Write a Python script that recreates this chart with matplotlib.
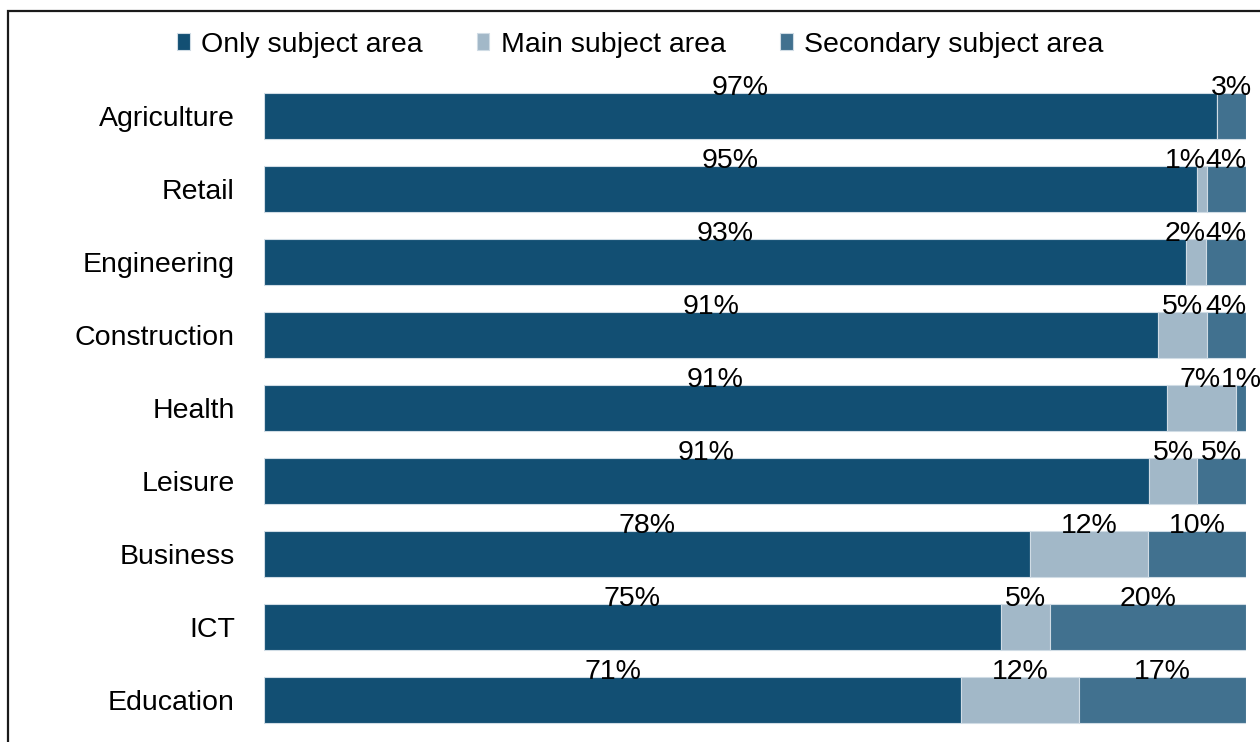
import matplotlib.pyplot as plt
import matplotlib.patches as patches
import numpy as np

plt.rcParams['font.family'] = ['Liberation Sans', 'DejaVu Sans']

categories = ['Agriculture', 'Retail', 'Engineering', 'Construction', 'Health',
              'Leisure', 'Business', 'ICT', 'Education']
only_area = [97, 95, 93, 91, 91, 91, 78, 75, 71]
main_area = [0, 1, 2, 5, 7, 5, 12, 5, 12]
secondary_area = [3, 4, 4, 4, 1, 5, 10, 20, 17]

series = [('Only subject area', only_area, '#124f73'),
          ('Main subject area', main_area, '#a2b8c8'),
          ('Secondary subject area', secondary_area, '#41718f')]

fig = plt.figure(figsize=(12.6, 7.42), dpi=100)
ax = fig.add_axes([264 / 1260, 1 - 736.5 / 742, 982 / 1260, 657 / 742])

y = np.arange(len(categories))
totals = np.array(only_area) + np.array(main_area) + np.array(secondary_area)
bar_h = 0.63
left = np.zeros(len(categories))
row_labels = [[] for _ in categories]

for name, vals, color in series:
    vals = np.array(vals, dtype=float)
    share = vals / totals
    ax.barh(y, share, left=left, height=bar_h, color=color,
            edgecolor='#d0dce5', linewidth=0.8, label=name)
    for i, (l, s, v) in enumerate(zip(left, share, vals)):
        if v > 0:
            t = ax.text(l + s / 2, i - bar_h / 2 + 0.03, f'{v:.0f}%',
                        ha='center', va='baseline', fontsize=20.5, color='black')
            row_labels[i].append(t)
    left += share

ax.set_xlim(0, 1)
ax.set_ylim(len(categories) - 0.5, -0.5)
ax.set_yticks(y)
ax.set_yticklabels(categories, fontsize=20.5)
ax.tick_params(axis='y', length=0, pad=21)
ax.set_xticks([])
for side in ax.spines.values():
    side.set_visible(False)

# push crowded labels left so neighbours just touch
fig.canvas.draw()
renderer = fig.canvas.get_renderer()
inv = ax.transData.inverted()
for labels in row_labels:
    for a, b in reversed(list(zip(labels[:-1], labels[1:]))):
        ea = a.get_window_extent(renderer)
        eb = b.get_window_extent(renderer)
        overlap = ea.x1 - eb.x0
        if overlap > 0:
            x0 = inv.transform((0, 0))[0]
            dx = inv.transform((overlap, 0))[0] - x0
            a.set_x(a.get_position()[0] - dx)

fig.legend(loc='center', bbox_to_anchor=(0.508, 0.940), ncol=3, frameon=False,
           fontsize=20.5, handlelength=0.45, handleheight=0.5,
           handletextpad=0.4, columnspacing=1.9)

# chart frame, clipped by the figure edges on the right and bottom
frame = patches.Rectangle((8 / 1260, -0.1), 1.2, 1.1 - 11 / 742,
                          transform=fig.transFigure, fill=False,
                          edgecolor='#1a1a1a', linewidth=1.6)
fig.add_artist(frame)

fig.savefig('out.png', dpi=100)
